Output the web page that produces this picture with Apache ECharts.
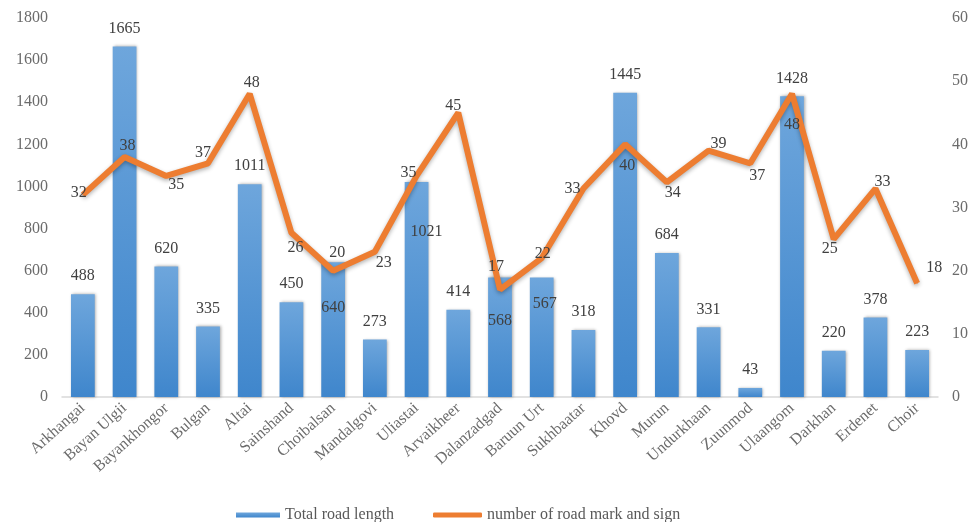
<!DOCTYPE html>
<html>
<head>
<meta charset="utf-8">
<script src="https://cdn.jsdelivr.net/npm/echarts@6/dist/echarts.min.js"></script>
<style>html,body{margin:0;padding:0;background:#fff}#c{width:973px;height:522px}</style>
</head>
<body>
<div id="c"></div>
<script>
const categories = ['Arkhangai','Bayan Ulgii','Bayankhongor','Bulgan','Altai','Sainshand','Choibalsan','Mandalgovi','Uliastai','Arvaikheer','Dalanzadgad','Baruun Urt','Sukhbaatar','Khovd','Murun','Undurkhaan','Zuunmod','Ulaangom','Darkhan','Erdenet','Choir'];
const roadLength = [488,1665,620,335,1011,450,640,273,1021,414,568,567,318,1445,684,331,43,1428,220,378,223];
const roadSigns = [32,38,35,37,48,26,20,23,35,45,17,22,33,40,34,39,37,48,25,33,18];
const leftTicks = [0,200,400,600,800,1000,1200,1400,1600,1800];
const rightTicks = [0,10,20,30,40,50,60];

// label placement (layout only)
const barInside = {6:[0,33],8:[10,37],10:[0,30],11:[3,13]};
const lineOffsets = [[-4,-2],[3,-11],[10,9],[-5,-10],[2,-11],[4,15],[4,-18],[9,11],[-8,-3],[-5,-7],[-4,-23],[1,-4],[-11,0],[2,21],[6,11],[10,-7],[7,13],[0,31],[-4,10],[7,-7],[17,-16]];

const FONT = '"Liberation Serif", "Times New Roman", serif';
const txt = '#404040';
const axisTxt = '#6b6b6b';

const barData = roadLength.map((v,i)=>{
  const o = barInside[i];
  return o ? {value:v,label:{position:'insideTop',distance:5,offset:o}} : {value:v};
});
const lineData = roadSigns.map((v,i)=>({value:v,label:{offset:lineOffsets[i]}}));

const chart = echarts.init(document.getElementById('c'));
chart.setOption({
  animation:false,
  backgroundColor:'#fff',
  grid:{left:62,right:35,top:18,bottom:125},
  legend:[
    {data:[{name:'Total road length',icon:'rect'}],left:231,top:502,itemWidth:44,itemHeight:5,itemGap:6,
     textStyle:{fontFamily:FONT,fontSize:16,color:'#595959'}},
    {data:[{name:'number of road mark and sign',icon:'roundRect'}],left:428,top:502,itemWidth:49,itemHeight:5,itemGap:2,
     textStyle:{fontFamily:FONT,fontSize:16,color:'#595959'}}
  ],
  xAxis:{type:'category',data:categories,
    axisLine:{lineStyle:{color:'#d9d9d9',width:1.5}},axisTick:{show:false},
    axisLabel:{rotate:42,interval:0,margin:9,fontFamily:FONT,fontSize:16,color:axisTxt}},
  yAxis:[
    {type:'value',min:leftTicks[0],max:leftTicks[leftTicks.length-1],interval:200,
     splitLine:{show:false},axisLine:{show:false},axisTick:{show:false},
     axisLabel:{margin:14,fontFamily:FONT,fontSize:16,color:axisTxt,formatter:v=>String(v)}},
    {type:'value',min:rightTicks[0],max:rightTicks[rightTicks.length-1],interval:10,
     splitLine:{show:false},axisLine:{show:false},axisTick:{show:false},
     axisLabel:{margin:14,fontFamily:FONT,fontSize:16,color:axisTxt,formatter:v=>String(v)}}
  ],
  series:[
    {name:'Total road length',type:'bar',data:barData,barCategoryGap:'43%',
     itemStyle:{color:new echarts.graphic.LinearGradient(0,0,0,1,[{offset:0,color:'#6ea6dc'},{offset:1,color:'#3f86cc'}]),
       shadowBlur:3,shadowColor:'rgba(0,0,0,0.35)',shadowOffsetX:1,shadowOffsetY:0},
     label:{show:true,position:'top',distance:10,fontFamily:FONT,fontSize:16,color:txt}},
    {name:'number of road mark and sign',type:'line',yAxisIndex:1,data:lineData,z:5,
     symbol:'circle',symbolSize:1,showSymbol:true,
     itemStyle:{color:'#ed7d31'},
     lineStyle:{color:'#ed7d31',width:6,shadowBlur:4,shadowColor:'rgba(0,0,0,0.3)',shadowOffsetY:2},
     label:{show:true,position:'inside',fontFamily:FONT,fontSize:16,color:txt}}
  ]
});
</script>
</body>
</html>
